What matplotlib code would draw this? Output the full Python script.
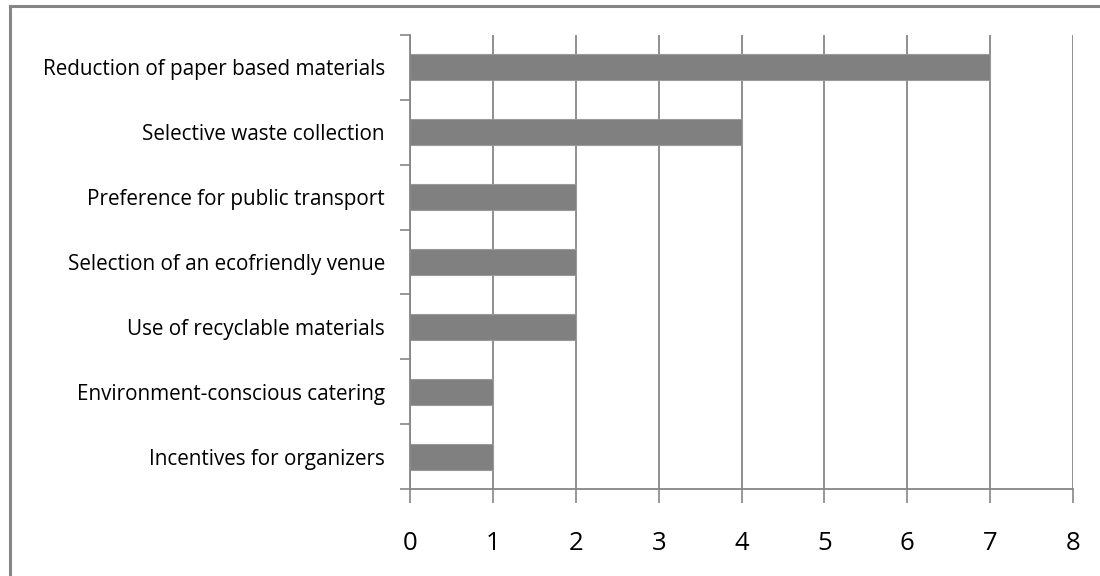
import numpy as np
import matplotlib
matplotlib.use("Agg")
import matplotlib.pyplot as plt
from matplotlib.lines import Line2D

# Données
categories = [
    "Reduction of paper based materials",
    "Selective waste collection",
    "Preference for public transport",
    "Selection of an ecofriendly venue",
    "Use of recyclable materials",
    "Environment-conscious catering",
    "Incentives for organizers",
]
values = [7, 4, 2, 2, 2, 1, 1]
x_ticks = [0, 1, 2, 3, 4, 5, 6, 7, 8]

grey = "#868686"
bar_grey = "#808080"

plt.rcParams['font.family'] = ['Open Sans', 'DejaVu Sans']

W, H = 1100, 576
fig = plt.figure(figsize=(W / 100, H / 100), dpi=100)
ax = fig.add_axes([410 / W, 1 - 489 / H, 663 / W, 454 / H])

# Cadre extérieur (gauche et haut seulement, le reste est coupé)
fig.add_artist(Line2D([10 / W, 10 / W], [0, 1 - 6 / H], color=grey, lw=2.2,
                      transform=fig.transFigure))
fig.add_artist(Line2D([10 / W, 1], [1 - 6 / H, 1 - 6 / H], color=grey, lw=2.2,
                      transform=fig.transFigure))

y = np.arange(len(categories))[::-1]
ax.barh(y, values, height=0.4, color=bar_grey, edgecolor="#9a9a9a",
        linewidth=0.8, zorder=3)

ax.set_xlim(0, 8)
ax.set_ylim(-0.5, len(categories) - 0.5)

ax.set_xticks(x_ticks)
ax.set_xticklabels([str(v) for v in x_ticks], fontsize=18.5)
ax.tick_params(axis='x', direction='out', length=10, width=1.2, color=grey,
               pad=20)

ax.set_yticks(y)
ax.set_yticklabels(categories, fontsize=14.9)
ax.tick_params(axis='y', which='major', length=0, pad=18)
ax.set_yticks(np.arange(-0.5, len(categories)), minor=True)
ax.tick_params(axis='y', which='minor', direction='out', length=7, width=1.2,
               color=grey)

ax.grid(axis='x', color=grey, linewidth=1.3, zorder=0)
ax.set_axisbelow(True)

for s in ['top', 'right']:
    ax.spines[s].set_visible(False)
for s in ['left', 'bottom']:
    ax.spines[s].set_color(grey)
    ax.spines[s].set_linewidth(1.3)
    ax.spines[s].set_zorder(4)

fig.savefig("out.png", dpi=100)
